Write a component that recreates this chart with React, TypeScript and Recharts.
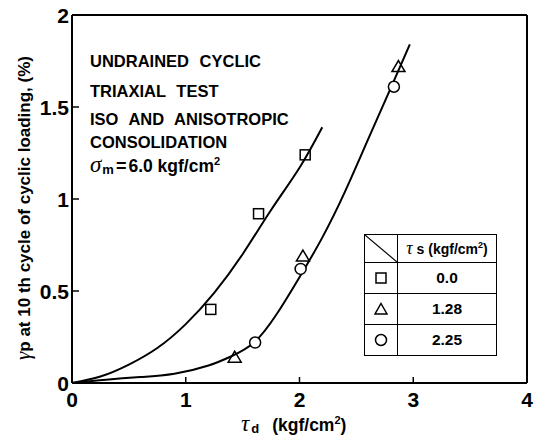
import React from "react";
import { ComposedChart, Line, Scatter, XAxis, YAxis, Legend } from "recharts";

// tick values
const xTicks = [0, 1, 2, 3, 4];
const yTicks = [0, 0.5, 1, 1.5, 2];
const yTickLabels = ["0", "0.5", "1", "1.5", "2"];

// fitted curves
const upperCurveX = [0, 0.25, 0.5, 0.75, 1.0, 1.25, 1.5, 1.75, 2.0, 2.2];
const upperCurveY = [0, 0.035, 0.1, 0.19, 0.32, 0.49, 0.7, 0.94, 1.17, 1.39];
const lowerCurveX = [0, 0.3, 0.6, 0.9, 1.2, 1.4, 1.6, 1.8, 2.0, 2.2, 2.4, 2.6, 2.8, 2.97];
const lowerCurveY = [0, 0.018, 0.032, 0.05, 0.095, 0.145, 0.22, 0.375, 0.575, 0.79, 1.04, 1.32, 1.6, 1.84];

// measured points, one series per tau_s
const tauS = ["0.0", "1.28", "2.25"];
const squareX = [1.22, 1.64, 2.05];
const squareY = [0.4, 0.92, 1.24];
const triangleX = [1.43, 2.03, 2.87];
const triangleY = [0.14, 0.69, 1.72];
const circleX = [1.61, 2.01, 2.83];
const circleY = [0.22, 0.62, 1.61];

const toPts = (xs: number[], ys: number[]) => xs.map((x, i) => ({ x, y: ys[i] }));

const SANS = "'Liberation Sans', Arial, sans-serif";
const SERIF = "'Liberation Serif', 'DejaVu Serif', serif";

const SquareShape = (props: any) => {
  const { cx, cy } = props;
  return <rect x={cx - 5} y={cy - 5} width={10} height={10} fill="none" stroke="#000" strokeWidth={1.5} />;
};
const TriangleShape = (props: any) => {
  const { cx, cy } = props;
  return <path d={`M${cx},${cy - 6} L${cx + 6.5},${cy + 5} L${cx - 6.5},${cy + 5} Z`} fill="none" stroke="#000" strokeWidth={1.5} />;
};
const CircleShape = (props: any) => {
  const { cx, cy } = props;
  return <circle cx={cx} cy={cy} r={5.5} fill="#fff" stroke="#000" strokeWidth={1.5} />;
};

const LeftTick = (props: any) => {
  const { x, y, payload, index } = props;
  const inner = payload.value > 0 && payload.value < 2;
  return (
    <g>
      {inner && <line x1={x} x2={x + 7} y1={y} y2={y} stroke="#000" strokeWidth={1.5} />}
      <text x={x - 3} y={y + 7.5} textAnchor="end" fontFamily={SANS} fontWeight="bold" fontSize={21} fill="#000">
        {yTickLabels[index]}
      </text>
    </g>
  );
};

const RightTick = (props: any) => {
  const { x, y, payload } = props;
  if (payload.value <= 0 || payload.value >= 2) return <g />;
  return <line x1={x - 7} x2={x} y1={y} y2={y} stroke="#000" strokeWidth={1.5} />;
};

const BottomTick = (props: any) => {
  const { x, y, payload } = props;
  const inner = payload.value > 0 && payload.value < 4;
  return (
    <g>
      {inner && <line x1={x} x2={x} y1={y} y2={y - 6} stroke="#000" strokeWidth={1.5} />}
      <text x={x} y={y + 24} textAnchor="middle" fontFamily={SANS} fontWeight="bold" fontSize={21} fill="#000">
        {payload.value}
      </text>
    </g>
  );
};

const symbolFor = (i: number) => {
  if (i === 0) return <rect x={2} y={2} width={10} height={10} fill="none" stroke="#000" strokeWidth={1.5} />;
  if (i === 1) return <path d="M7,1.5 L13,12 L1,12 Z" fill="none" stroke="#000" strokeWidth={1.5} />;
  return <circle cx={7} cy={7} r={5.5} fill="none" stroke="#000" strokeWidth={1.5} />;
};

const LegendTable = () => {
  const cell: React.CSSProperties = { border: "1.5px solid #000", padding: 0, textAlign: "center" };
  return (
    <table style={{ borderCollapse: "collapse", width: 133, fontFamily: SANS, fontWeight: "bold", background: "#fff" }}>
      <tbody>
        <tr style={{ height: 28 }}>
          <td style={{ ...cell, width: 32, position: "relative" }}>
            <svg width="100%" height="100%" style={{ position: "absolute", left: 0, top: 0 }} preserveAspectRatio="none" viewBox="0 0 10 10">
              <line x1={0} y1={0} x2={10} y2={10} stroke="#000" strokeWidth={0.4} />
            </svg>
          </td>
          <td style={{ ...cell, fontSize: 14, whiteSpace: "nowrap" }}>
            <span style={{ fontFamily: SERIF, fontStyle: "italic", fontWeight: "normal", fontSize: 18 }}>τ</span>
            <span> s (kgf/cm</span>
            <sup style={{ fontSize: 9 }}>2</sup>
            <span>)</span>
          </td>
        </tr>
        {tauS.map((v, i) => (
          <tr key={v} style={{ height: 31 }}>
            <td style={cell}>
              <svg width={14} height={14} style={{ display: "block", margin: "0 auto" }}>
                {symbolFor(i)}
              </svg>
            </td>
            <td style={{ ...cell, fontSize: 15.5 }}>{v}</td>
          </tr>
        ))}
      </tbody>
    </table>
  );
};

export default function App() {
  const upper = toPts(upperCurveX, upperCurveY);
  const lower = toPts(lowerCurveX, lowerCurveY);
  const squares = toPts(squareX, squareY);
  const triangles = toPts(triangleX, triangleY);
  const circles = toPts(circleX, circleY);

  return (
    <div style={{ position: "absolute", left: 0, top: 0, width: 540, height: 441, background: "#fff" }}>
      <ComposedChart width={540} height={441} margin={{ top: 0, right: 0, bottom: 0, left: 0 }}>
        <XAxis
          dataKey="x"
          type="number"
          domain={[0, 4]}
          ticks={xTicks}
          height={58}
          tickSize={0}
          tickMargin={0}
          tickLine={false}
          tick={<BottomTick />}
          axisLine={{ stroke: "#000", strokeWidth: 2 }}
        />
        <XAxis xAxisId="top" orientation="top" type="number" domain={[0, 4]} height={15} tick={false} tickLine={false} axisLine={{ stroke: "#000", strokeWidth: 2 }} />
        <YAxis
          dataKey="y"
          type="number"
          domain={[0, 2]}
          ticks={yTicks}
          width={72}
          tickSize={0}
          tickMargin={0}
          tickLine={false}
          tick={<LeftTick />}
          axisLine={{ stroke: "#000", strokeWidth: 2 }}
        />
        <YAxis
          yAxisId="right"
          orientation="right"
          type="number"
          domain={[0, 2]}
          ticks={yTicks}
          width={13}
          tickSize={0}
          tickMargin={0}
          tickLine={false}
          tick={<RightTick />}
          axisLine={{ stroke: "#000", strokeWidth: 2 }}
        />
        <Line data={upper} dataKey="y" type="natural" stroke="#000" strokeWidth={2} dot={false} isAnimationActive={false} />
        <Line data={lower} dataKey="y" type="natural" stroke="#000" strokeWidth={2} dot={false} isAnimationActive={false} />
        <Scatter data={squares} shape={<SquareShape />} isAnimationActive={false} />
        <Scatter data={triangles} shape={<TriangleShape />} isAnimationActive={false} />
        <Scatter data={circles} shape={<CircleShape />} isAnimationActive={false} />
        <Legend
          layout="horizontal"
          verticalAlign="middle"
          align="center"
          content={() => <LegendTable />}
          wrapperStyle={{ position: "absolute", left: 364, top: 234, width: 133 }}
        />
      </ComposedChart>

      <svg width={540} height={441} style={{ position: "absolute", left: 0, top: 0, pointerEvents: "none" }}>
        <g fontFamily={SANS} fontWeight="bold" fontSize={16.5} fill="#000" wordSpacing={6}>
          <text x={90} y={67}>UNDRAINED CYCLIC</text>
          <text x={90} y={97}>TRIAXIAL TEST</text>
          <text x={90} y={125}>ISO AND ANISOTROPIC</text>
          <text x={90} y={148}>CONSOLIDATION</text>
          <text x={90} y={172} wordSpacing={0}>
            <tspan fontFamily={SERIF} fontStyle="italic" fontWeight="normal" fontSize={23}>σ</tspan>
            <tspan fontSize={13} dx={1} dy={2}>m</tspan>
            <tspan fontSize={18} dx={2} dy={-2}>=</tspan>
            <tspan fontSize={17.5} dx={2}>6.0 kgf/cm</tspan>
            <tspan fontSize={11} dy={-7}>2</tspan>
          </text>
        </g>
        <text x={241} y={431} fontFamily={SANS} fontWeight="bold" fontSize={17.5} fill="#000">
          <tspan fontFamily={SERIF} fontStyle="italic" fontWeight="normal" fontSize={23}>τ</tspan>
          <tspan fontSize={13} dx={2} dy={2}>d</tspan>
          <tspan dx={13} dy={-2}>(kgf/cm</tspan>
          <tspan fontSize={11} dy={-7}>2</tspan>
          <tspan dy={7}>)</tspan>
        </text>
        <text
          x={0}
          y={0}
          transform="translate(30,208) rotate(-90)"
          textAnchor="middle"
          fontFamily={SANS}
          fontWeight="bold"
          fontSize={17}
          fill="#000"
        >
          <tspan fontFamily={SERIF} fontStyle="italic" fontWeight="normal" fontSize={21}>γ</tspan>
          <tspan>p at 10 th cycle of cyclic loading, (%)</tspan>
        </text>
      </svg>
    </div>
  );
}
